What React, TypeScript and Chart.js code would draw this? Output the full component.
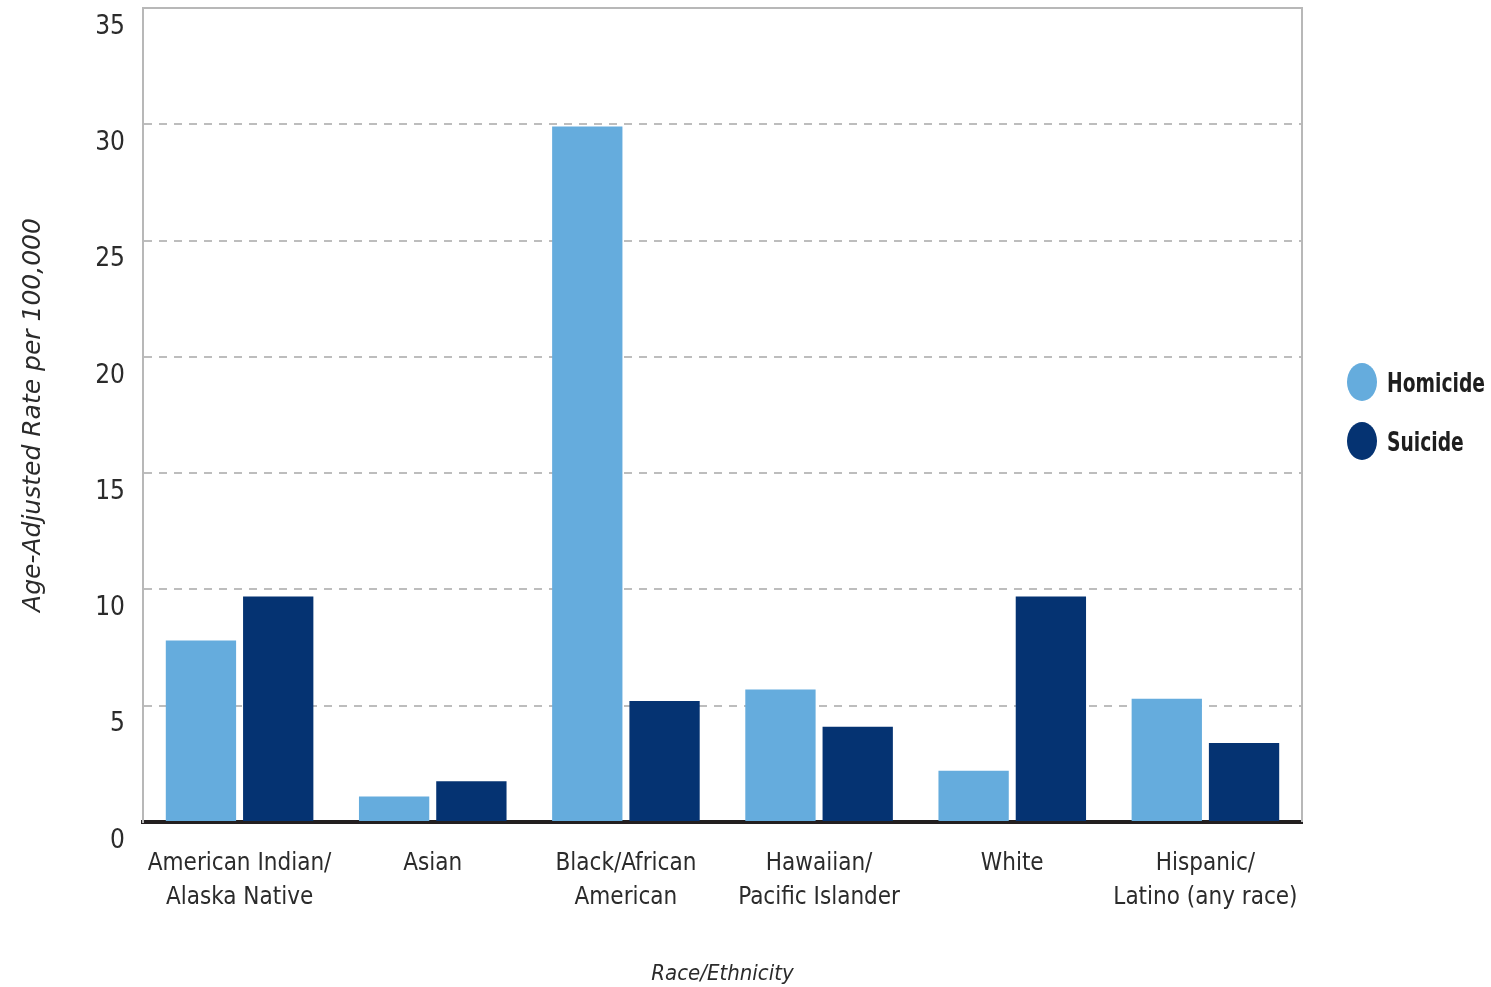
import React, { useEffect, useRef } from "react";
import { Chart, registerables } from "chart.js";

Chart.register(...registerables);

const categories: string[][] = [
  ["American Indian/", "Alaska Native"],
  ["Asian"],
  ["Black/African", "American"],
  ["Hawaiian/", "Pacific Islander"],
  ["White"],
  ["Hispanic/", "Latino (any race)"],
];
const homicide = [7.8, 1.1, 29.9, 5.7, 2.2, 5.3];
const suicide = [9.7, 1.75, 5.2, 4.1, 9.7, 3.4];
const yTicks = [0, 5, 10, 15, 20, 25, 30, 35];
const seriesNames = ["Homicide", "Suicide"];
const seriesColors = ["#65acdd", "#053372"];
const yTitle = "Age-Adjusted Rate per 100,000";
const xTitle = "Race/Ethnicity";

const NARROW = "'Liberation Sans Narrow', 'DejaVu Sans Condensed', 'Arial Narrow', sans-serif";
const TEXT = "#2b2b2b";

const framePlugin = {
  id: "frame",
  beforeDatasetsDraw(chart: any) {
    const { ctx, chartArea } = chart;
    ctx.save();
    ctx.strokeStyle = "#b8b8b8";
    ctx.lineWidth = 2;
    ctx.beginPath();
    ctx.moveTo(chartArea.left, chartArea.top);
    ctx.lineTo(chartArea.right, chartArea.top);
    ctx.lineTo(chartArea.right, chartArea.bottom);
    ctx.stroke();
    ctx.restore();
  },
};

const legendPlugin = {
  id: "customLegend",
  afterDraw(chart: any) {
    const { ctx, chartArea } = chart;
    ctx.save();
    const x0 = chartArea.right + 60;
    const yStart = 382;
    const gap = 59;
    chart.data.datasets.forEach((ds: any, i: number) => {
      const cy = yStart + i * gap;
      ctx.fillStyle = ds.backgroundColor;
      ctx.beginPath();
      ctx.ellipse(x0, cy, 15, 19, 0, 0, Math.PI * 2);
      ctx.fill();
      ctx.fillStyle = "#1e1e1e";
      ctx.font = `bold 26px ${NARROW}`;
      ctx.textBaseline = "middle";
      ctx.textAlign = "left";
      ctx.save();
      ctx.translate(x0 + 25, cy + 3);
      ctx.scale(0.8, 1);
      ctx.fillText(ds.label, 0, 0);
      ctx.restore();
    });
    ctx.restore();
  },
};

export default function App() {
  const ref = useRef<HTMLCanvasElement | null>(null);

  useEffect(() => {
    if (!ref.current) return;
    const chart = new Chart(ref.current, {
      type: "bar",
      data: {
        labels: categories,
        datasets: [
          { label: seriesNames[0], data: homicide, backgroundColor: seriesColors[0] },
          { label: seriesNames[1], data: suicide, backgroundColor: seriesColors[1] },
        ],
      },
      options: {
        animation: false,
        responsive: true,
        maintainAspectRatio: false,
        layout: { padding: { top: 8, right: 189, left: 0, bottom: 0 } },
        datasets: { bar: { categoryPercentage: 0.8, barPercentage: 0.91 } },
        plugins: { legend: { display: false }, tooltip: { enabled: false } },
        scales: {
          x: {
            grid: { display: false, drawTicks: false },
            border: { display: true, color: "#231f20", width: 4 },
            ticks: {
              font: { family: NARROW, size: 24, lineHeight: 1.4 },
              color: TEXT,
              padding: 25,
              maxRotation: 0,
              autoSkip: false,
            },
            title: {
              display: true,
              text: xTitle,
              font: { family: NARROW, size: 22, style: "italic" },
              color: TEXT,
              padding: { top: 0, bottom: 0 },
            },
            afterFit: (s: any) => {
              s.height = 165;
              s.paddingLeft = 0;
              s.paddingRight = 0;
            },
          },
          y: {
            min: 0,
            max: 35,
            afterBuildTicks: (s: any) => {
              s.ticks = yTicks.map((v) => ({ value: v }));
            },
            grid: {
              color: (c: any) =>
                c.tick && (c.tick.value === 0 || c.tick.value === 35) ? "rgba(0,0,0,0)" : "#bdbdbd",
              lineWidth: 2,
              drawTicks: false,
            },
            border: { display: true, color: "#b8b8b8", width: 2, dash: [8, 7] },
            ticks: {
              font: { family: NARROW, size: 26 },
              color: TEXT,
              padding: 18,
              labelOffset: 19,
            },
            title: {
              display: true,
              text: yTitle,
              font: { family: "'DejaVu Sans', sans-serif", size: 25, style: "italic" },
              color: TEXT,
              padding: { top: 18, bottom: 0 },
            },
            afterFit: (s: any) => {
              s.width = 143;
              s.paddingTop = 0;
              s.paddingBottom = 0;
            },
          },
        },
      },
      plugins: [framePlugin, legendPlugin],
    });
    return () => chart.destroy();
  }, []);

  return (
    <div style={{ position: "fixed", left: 0, top: 0, width: 1491, height: 987, background: "#fff" }}>
      <canvas ref={ref} />
    </div>
  );
}
